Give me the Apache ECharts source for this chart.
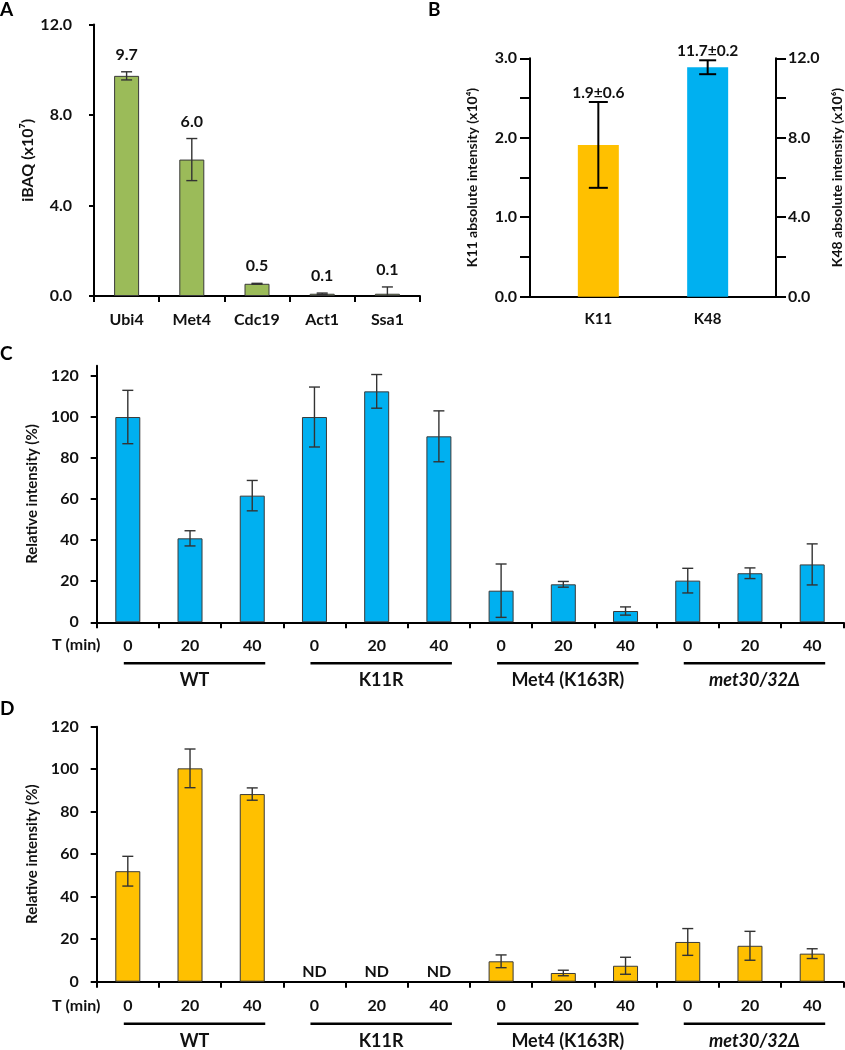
<!DOCTYPE html>
<html><head><meta charset="utf-8">
<script src="https://cdn.jsdelivr.net/npm/echarts@6/dist/echarts.min.js"></script>
<style>html,body{margin:0;padding:0;background:#fff}#c{width:845px;height:1050px}</style>
</head><body><div id="c"></div>
<script>
// ---------- Panel A ----------
const aCategories = ['Ubi4', 'Met4', 'Cdc19', 'Act1', 'Ssa1'];
const aValues = [9.73, 6.03, 0.54, 0.1, 0.1];
const aErrors = [0.18, 0.93, 0.02, 0.03, 0.3];
const aLabels = ['9.7', '6.0', '0.5', '0.1', '0.1'];
// ---------- Panel B ----------
const bCategories = ['K11', 'K48'];
const bValues = [1.91, 11.55];   // K11 on left axis (x10^4), K48 on right axis (x10^6)
const bErrors = [0.54, 0.35];
const bLabels = ['1.9\u00B10.6', '11.7\u00B10.2'];
// ---------- Panels C / D ----------
const groups = ['WT', 'K11R', 'Met4 (K163R)', 'met30/32\u0394'];
const times = ['0', '20', '40'];
const cValues = [100, 40.9, 61.7, 100, 112.5, 90.6, 15.4, 18.5, 5.5, 20.3, 23.9, 28.2];
const cErrors = [13, 3.7, 7.4, 14.6, 8.2, 12.4, 13, 1.4, 2, 6, 2.6, 10];
const dValues = [52, 100.4, 88.3, null, null, null, 9.6, 4.1, 7.5, 18.7, 16.9, 13.2];
const dErrors = [7, 9.1, 2.9, null, null, null, 3, 1.3, 4, 6.3, 6.8, 2.3];
const cTicks = [0, 20, 40, 60, 80, 100, 120];

const FONT = 'Lato';
const cdCats = [];
groups.forEach((g, gi) => times.forEach(t => cdCats.push(gi + '|' + t)));

// B: place the two categories on a finer slot axis
const bSlotIdx = [2, 6];
const bSlots = new Array(9).fill('');
bSlotIdx.forEach((s, i) => bSlots[s] = bCategories[i]);

function errRender(capW, color, lw, labels, labelGap, labelFont) {
  return function (params, api) {
    const x = api.value(0), lo = api.value(1), hi = api.value(2);
    const pHi = api.coord([x, hi]);
    const pLo = api.coord([x, Math.max(0, lo)]);
    const st = { stroke: color, lineWidth: lw };
    const ch = [
      { type: 'line', shape: { x1: pHi[0], y1: pHi[1], x2: pLo[0], y2: pLo[1] }, style: st },
      { type: 'line', shape: { x1: pHi[0] - capW / 2, y1: pHi[1], x2: pHi[0] + capW / 2, y2: pHi[1] }, style: st }
    ];
    if (lo > 0) ch.push({ type: 'line', shape: { x1: pLo[0] - capW / 2, y1: pLo[1], x2: pLo[0] + capW / 2, y2: pLo[1] }, style: st });
    if (labels) {
      ch.push({ type: 'text', x: pHi[0], y: pHi[1] - labelGap,
        style: { text: labels[params.dataIndex], fill: '#111', font: labelFont, align: 'center', verticalAlign: 'middle', textAlign: 'center', textVerticalAlign: 'middle' } });
    }
    return { type: 'group', children: ch };
  };
}

function groupRender(lineOff, textOff) {
  return function (params, api) {
    const s = api.coord([api.value(0), 0]);
    const e = api.coord([api.value(1), 0]);
    const x1 = s[0] - 4, x2 = e[0] + 13;
    const name = groups[params.dataIndex];
    const italic = name.indexOf('met30') === 0;
    return { type: 'group', children: [
      { type: 'line', shape: { x1: x1, y1: s[1] + lineOff, x2: x2, y2: s[1] + lineOff }, style: { stroke: '#000', lineWidth: 2.5 } },
      { type: 'text', x: (x1 + x2) / 2, y: s[1] + textOff,
        style: { text: name, fill: '#111', font: (italic ? 'italic ' : '') + 'bold 18px ' + FONT, align: 'center', verticalAlign: 'middle', textAlign: 'center', textVerticalAlign: 'middle' } }
    ] };
  };
}

const axisLineBlack = { show: true, lineStyle: { color: '#000', width: 2 } };
const lblStyle = (size) => ({ color: '#111', fontWeight: 'bold', fontSize: size, fontFamily: FONT });

const groupData = groups.map((g, i) => [i * 3, i * 3 + 2]);
const errData = (vals, errs) => vals.map((v, i) => v == null ? [i, null, null] : [i, v - errs[i], v + errs[i]]);

const option = {
  animation: false,
  backgroundColor: '#fff',
  grid: [
    { left: 94, top: 24.5, width: 326, height: 271.5 },
    { left: 530, top: 58.3, width: 246, height: 238.4 },
    { left: 96.7, top: 365.7, width: 746.6, height: 256.6 },
    { left: 96.7, top: 726.7, width: 746.6, height: 255 }
  ],
  xAxis: [
    { type: 'category', gridIndex: 0, data: aCategories, axisLine: axisLineBlack,
      axisTick: { show: true, length: 6, lineStyle: { color: '#000', width: 2 } },
      axisLabel: Object.assign({ margin: 16 }, lblStyle(16)) },
    { type: 'category', gridIndex: 1, data: bSlots, axisLine: axisLineBlack, axisTick: { show: false },
      axisLabel: Object.assign({ margin: 15, interval: 0 }, lblStyle(15)) },
    { type: 'category', gridIndex: 2, data: cdCats, axisLine: axisLineBlack,
      axisTick: { show: true, length: 6, lineStyle: { color: '#000', width: 2 } },
      axisLabel: Object.assign({ margin: 16, formatter: v => v.split('|')[1] }, lblStyle(16)) },
    { type: 'category', gridIndex: 3, data: cdCats, axisLine: axisLineBlack,
      axisTick: { show: true, length: 6, lineStyle: { color: '#000', width: 2 } },
      axisLabel: Object.assign({ margin: 16, formatter: v => v.split('|')[1] }, lblStyle(16)) }
  ],
  yAxis: [
    { type: 'value', gridIndex: 0, min: 0, max: 12, interval: 4, splitLine: { show: false },
      axisLine: axisLineBlack, axisTick: { show: true, length: 5, lineStyle: { color: '#000', width: 2 } },
      axisLabel: Object.assign({ margin: 22, formatter: v => v.toFixed(1) }, lblStyle(16)),
      name: 'iBAQ (x10\u2077)', nameLocation: 'middle', nameGap: 58, nameTextStyle: lblStyle(16) },
    { type: 'value', gridIndex: 1, min: 0, max: 3, interval: 0.5, splitLine: { show: false },
      axisLine: axisLineBlack, axisTick: { show: true, length: 10, lineStyle: { color: '#000', width: 2 } },
      axisLabel: Object.assign({ margin: 13, formatter: v => (Math.abs(v % 1) < 1e-9 ? v.toFixed(1) : '') }, lblStyle(16)),
      name: 'K11 absolute intensity (x10\u2074)', nameLocation: 'middle', nameGap: 51, nameTextStyle: lblStyle(14) },
    { type: 'value', gridIndex: 1, position: 'right', min: 0, max: 12, interval: 2, splitLine: { show: false },
      axisLine: axisLineBlack, axisTick: { show: true, length: 10, lineStyle: { color: '#000', width: 2 } },
      axisLabel: Object.assign({ margin: 12, formatter: v => (v % 4 === 0 ? v.toFixed(1) : '') }, lblStyle(16)),
      name: 'K48 absolute intensity (x10\u2076)', nameLocation: 'middle', nameGap: 54, nameTextStyle: lblStyle(14) },
    { type: 'value', gridIndex: 2, min: 0, max: 125, interval: 20, splitLine: { show: false },
      axisLine: axisLineBlack,
      axisTick: { show: true, length: 6, customValues: cTicks, lineStyle: { color: '#000', width: 2 } },
      axisLabel: Object.assign({ margin: 18, customValues: cTicks }, lblStyle(16)),
      name: 'Relative intensity (%)', nameLocation: 'middle', nameGap: 55, nameTextStyle: lblStyle(15) },
    { type: 'value', gridIndex: 3, min: 0, max: 120, interval: 20, splitLine: { show: false },
      axisLine: axisLineBlack, axisTick: { show: true, length: 6, lineStyle: { color: '#000', width: 2 } },
      axisLabel: Object.assign({ margin: 18 }, lblStyle(16)),
      name: 'Relative intensity (%)', nameLocation: 'middle', nameGap: 55, nameTextStyle: lblStyle(15) }
  ],
  graphic: [
    { type: 'text', left: 0, top: 0, style: { text: 'A', font: 'bold 19px ' + FONT, fill: '#000' } },
    { type: 'text', left: 428, top: 0, style: { text: 'B', font: 'bold 19px ' + FONT, fill: '#000' } },
    { type: 'text', left: 0, top: 344, style: { text: 'C', font: 'bold 19px ' + FONT, fill: '#000' } },
    { type: 'text', left: 0, top: 699, style: { text: 'D', font: 'bold 19px ' + FONT, fill: '#000' } },
    { type: 'text', left: 52, top: 637, style: { text: 'T (min)', font: 'bold 16px ' + FONT, fill: '#111' } },
    { type: 'text', left: 52, top: 998, style: { text: 'T (min)', font: 'bold 16px ' + FONT, fill: '#111' } }
  ],
  series: [
    // A
    { type: 'bar', xAxisIndex: 0, yAxisIndex: 0, data: aValues, barWidth: 25,
      itemStyle: { color: '#9BBB59', borderColor: '#3a3a3a', borderWidth: 1 } },
    { type: 'custom', xAxisIndex: 0, yAxisIndex: 0, data: errData(aValues, aErrors), clip: false,
      renderItem: errRender(11, '#333', 1.4, aLabels, 17, 'bold 16px ' + FONT), z: 5 },
    // B
    { type: 'bar', xAxisIndex: 1, yAxisIndex: 1, barWidth: 41, barGap: '-100%',
      data: bSlots.map((s, i) => i === bSlotIdx[0] ? bValues[0] : null), itemStyle: { color: '#FFC000' } },
    { type: 'bar', xAxisIndex: 1, yAxisIndex: 2, barWidth: 41, barGap: '-100%',
      data: bSlots.map((s, i) => i === bSlotIdx[1] ? bValues[1] : null), itemStyle: { color: '#00B0F0' } },
    { type: 'custom', xAxisIndex: 1, yAxisIndex: 1, clip: false, z: 5,
      data: [[bSlotIdx[0], bValues[0] - bErrors[0], bValues[0] + bErrors[0]]],
      renderItem: errRender(19, '#000', 2, [bLabels[0]], 9, 'bold 15.5px ' + FONT) },
    { type: 'custom', xAxisIndex: 1, yAxisIndex: 2, clip: false, z: 5,
      data: [[bSlotIdx[1], bValues[1] - bErrors[1], bValues[1] + bErrors[1]]],
      renderItem: errRender(17, '#000', 2, [bLabels[1]], 9, 'bold 15.5px ' + FONT) },
    // C
    { type: 'bar', xAxisIndex: 2, yAxisIndex: 3, data: cValues, barWidth: 25,
      itemStyle: { color: '#00B0F0', borderColor: '#3a3a3a', borderWidth: 1 } },
    { type: 'custom', xAxisIndex: 2, yAxisIndex: 3, data: errData(cValues, cErrors), clip: false, z: 5,
      renderItem: errRender(11, '#333', 1.4) },
    { type: 'custom', xAxisIndex: 2, yAxisIndex: 3, data: groupData, clip: false, renderItem: groupRender(41, 58) },
    // D
    { type: 'bar', xAxisIndex: 3, yAxisIndex: 4, data: dValues, barWidth: 25,
      itemStyle: { color: '#FFC000', borderColor: '#3a3a3a', borderWidth: 1 } },
    { type: 'custom', xAxisIndex: 3, yAxisIndex: 4, data: errData(dValues, dErrors).filter(d => d[1] != null), clip: false, z: 5,
      renderItem: errRender(11, '#333', 1.4) },
    { type: 'custom', xAxisIndex: 3, yAxisIndex: 4, data: groupData, clip: false, renderItem: groupRender(42, 59) },
    { type: 'custom', xAxisIndex: 3, yAxisIndex: 4, clip: false,
      data: dValues.map((v, i) => [i, v]).filter(d => d[1] == null).map(d => [d[0], 0]),
      renderItem: function (params, api) {
        const p = api.coord([api.value(0), api.value(1)]);
        return { type: 'text', x: p[0], y: p[1] - 10,
          style: { text: 'ND', fill: '#111', font: 'bold 16px ' + FONT, align: 'center', verticalAlign: 'middle', textAlign: 'center', textVerticalAlign: 'middle' } };
      } }
  ]
};

const chart = echarts.init(document.getElementById('c'), null, { renderer: 'canvas' });
chart.setOption(option);
</script>
</body></html>
